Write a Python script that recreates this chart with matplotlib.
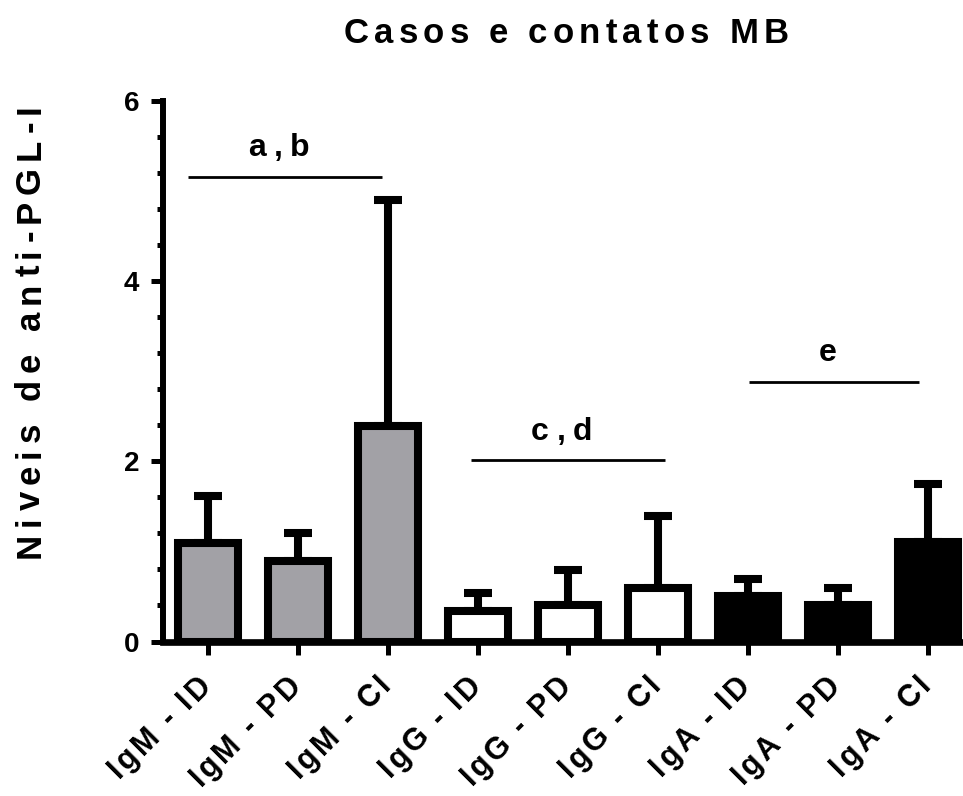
import numpy as np
import matplotlib
matplotlib.use("Agg")
import matplotlib.pyplot as plt
from matplotlib import font_manager, transforms
from matplotlib.ticker import MultipleLocator
from matplotlib.ft2font import FT2Font

# data
groups = ["IgM - ID", "IgM - PD", "IgM - CI",
          "IgG - ID", "IgG - PD", "IgG - CI",
          "IgA - ID", "IgA - PD", "IgA - CI"]
means = [1.09, 0.89, 2.39, 0.34, 0.40, 0.59, 0.50, 0.40, 1.10]
errors = [0.53, 0.31, 2.51, 0.20, 0.39, 0.80, 0.19, 0.19, 0.65]
fills = ["#a2a1a6"] * 3 + ["white"] * 3 + ["black"] * 3

# significance brackets
sig_labels = ["a,b", "c,d", "e"]
sig_start = [-0.22, 2.92, 6.01]
sig_end = [1.93, 5.08, 7.90]
sig_level = [5.16, 2.01, 2.88]

FONT = "Liberation Sans"
plt.rcParams["font.family"] = FONT
plt.rcParams["font.weight"] = "bold"
font_path = font_manager.findfont(font_manager.FontProperties(family=FONT, weight="bold"))
ft = FT2Font(font_path)

fig = plt.figure(figsize=(9.63, 7.96), dpi=100)
ax = fig.add_axes([163 / 963, 1 - 641.5 / 796, 1 - 163 / 963, (641.5 - 101) / 796])


# Prism style letter spaced text, one glyph at a time
def tracked_text(base, x, y, s, size, track, angle=0, align="center", dx=0, dy=0):
    ft.set_size(size, 72)
    advs = [ft.load_char(ord(c)).linearHoriAdvance / 65536 for c in s]
    gap = track * size
    total = sum(advs) + gap * (len(s) - 1)
    if align == "center":
        pos = -total / 2
    elif align == "right":
        pos = -total
    else:
        pos = 0
    ca, sa = np.cos(np.radians(angle)), np.sin(np.radians(angle))
    for c, a in zip(s, advs):
        if c != " ":
            tr = transforms.offset_copy(base, fig=fig, x=dx + pos * ca, y=dy + pos * sa, units="points")
            fig.text(x, y, c, transform=tr, fontsize=size, fontweight="bold",
                     rotation=angle, rotation_mode="anchor", ha="left", va="baseline")
        pos += a + gap


x = np.arange(len(groups))
ax.errorbar(x, means, yerr=[np.zeros(len(x)), errors], fmt="none", ecolor="black",
            elinewidth=5.8, capsize=10, capthick=5.8, zorder=1)
ax.bar(x, means, width=0.67, color=fills, edgecolor="black", linewidth=5.8, zorder=2)

for lab, x0, x1, yv in zip(sig_labels, sig_start, sig_end, sig_level):
    ax.plot([x0, x1], [yv, yv], color="black", linewidth=2, solid_capstyle="butt")
    tracked_text(ax.transData, (x0 + x1) / 2 - 0.07, yv, lab, 23, 0.24, dy=15)

ax.set_xlim(-0.5, 8.39)
ax.set_ylim(0, 6)
ax.set_yticks([0, 2, 4, 6])
ax.yaxis.set_minor_locator(MultipleLocator(0.4))
ax.set_xticks(x)
ax.set_xticklabels([])

for side in ["top", "right"]:
    ax.spines[side].set_visible(False)
ax.spines["left"].set_linewidth(4.3)
ax.spines["bottom"].set_linewidth(4.8)
ax.tick_params(axis="y", which="major", length=9, width=3.6, pad=8, labelsize=20)
ax.tick_params(axis="y", which="minor", length=4.5, width=3.6)
ax.tick_params(axis="x", which="major", length=9, width=3.6)
for t in ax.get_yticklabels():
    t.set_fontsize(20)
    t.set_fontweight("bold")

for i, g in enumerate(groups):
    tracked_text(ax.get_xaxis_transform(), i, 0, g, 22, 0.1, angle=45, align="right", dx=3, dy=-32)

tracked_text(fig.transFigure, 566 / 963, 1 - 43 / 796, "Casos e contatos MB", 25, 0.15)
tracked_text(fig.transFigure, 40 / 963, 1 - 331 / 796, "Niveis de anti-PGL-I", 25, 0.19, angle=90)

fig.savefig("out.png", dpi=100)
